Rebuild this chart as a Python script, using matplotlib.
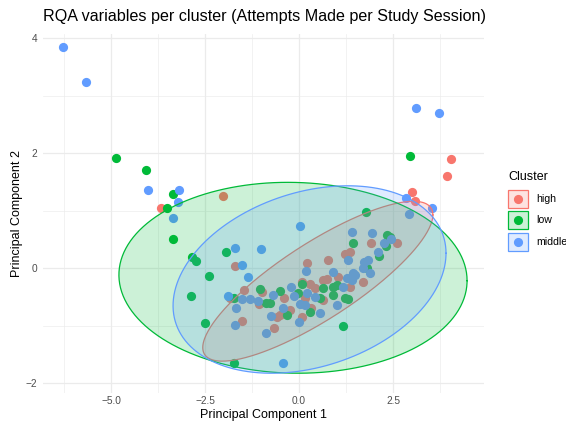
import numpy as np
import matplotlib.pyplot as plt
from matplotlib.patches import Rectangle
from matplotlib.lines import Line2D

plt.rcParams['font.family'] = ['Liberation Sans', 'DejaVu Sans']

clusters = ['high', 'low', 'middle']
colors = ['#F8766D', '#00BA38', '#619CFF']

# points (PC1, PC2)
high_pc1 = [-3.67, -2.02, 4.04, 3.94, 3.01, 3.09, -1.70, -1.46, -0.98, -1.84, -1.06, -0.40,
            -1.52, -0.66, -0.51, -0.59, -0.24, 0.08, 0.32, 0.16, 0.64, 0.64, 0.74, 1.04,
            1.36, 1.70, 1.22, 1.36, 0.77, 0.21, 0.08, 0.29, 1.91, 2.61, 0.43]
high_pc2 = [1.04, 1.25, 1.90, 1.60, 1.32, 1.17, 0.03, -0.38, -0.42, -0.52, -0.63, -0.52,
            -0.92, -1.04, -0.82, -0.85, -0.73, -0.85, -0.70, -0.52, -0.56, -0.21, -0.19, -0.16,
            -0.33, -0.24, 0.24, 0.28, 0.14, 0.09, -0.24, -0.28, 0.43, 0.43, -0.35]

low_pc1 = [-4.87, -4.07, -3.35, -3.51, 2.95, -3.35, -2.85, -2.74, -1.94, -2.39, -2.87, -1.73,
           -1.04, -0.88, -0.77, -0.51, -2.50, -1.73, 1.17, 1.78, 1.44, 2.34, 2.42, 2.31,
           2.13, 1.81, 0.90, 1.01, 0.64, 0.08, -0.03, 0.56, 0.90, 1.22, 1.30, 0.29, -0.32]
low_pc2 = [1.91, 1.70, 1.29, 1.04, 1.95, 0.50, 0.19, 0.12, 0.28, -0.14, -0.49, -0.52,
           -0.37, -0.61, -0.61, -0.40, -0.96, -1.65, -1.01, 0.97, 0.43, 0.57, 0.54, 0.38,
           0.21, 0.00, -0.33, -0.30, -0.35, -0.28, -0.43, -0.52, -0.47, -0.52, -0.54, -0.77, -0.82]

middle_pc1 = [-6.28, -5.66, -4.02, -3.19, -3.22, -3.35, 3.11, 3.72, 2.85, 3.54, 2.93, -1.70,
              -1.01, -1.52, -1.36, -1.89, -1.52, -1.30, -1.09, -0.69, -1.68, -1.70, -0.88, -0.43,
              -0.74, -0.43, 0.00, -0.13, 0.21, 0.03, 0.16, 0.56, 0.43, 1.01, 1.17, -0.21,
              0.19, 0.03, 1.41, 1.94, 2.26, 2.45, 2.10, 1.30, 1.73, 1.84, 1.70, 1.44,
              1.89, 0.90, 1.49, 1.41, 1.28]
middle_pc2 = [3.84, 3.23, 1.36, 1.36, 1.15, 0.87, 2.78, 2.70, 1.22, 1.04, 0.94, 0.35,
              0.33, 0.05, -0.16, -0.49, -0.54, -0.54, -0.57, -0.47, -0.70, -0.99, -1.13, -1.65,
              -0.83, -0.70, -0.94, -0.49, -0.43, -0.63, -0.64, -0.78, -0.50, -0.64, -0.33, -0.33,
              -0.05, 0.73, 0.63, 0.61, 0.43, 0.50, 0.28, 0.14, 0.10, 0.14, 0.00, -0.09,
              -0.09, -0.07, -0.12, -0.21, -0.17]

# ellipse per cluster: centre, half extent in x / y, correlation
ell_cx = [0.50, -0.16, 0.28]
ell_cy = [-0.23, -0.17, -0.20]
ell_sx = [3.06, 4.63, 3.63]
ell_sy = [1.39, 1.66, 1.63]
ell_rho = [0.83, -0.03, 0.28]

xticks = [-5.0, -2.5, 0.0, 2.5]
xminor = [-6.25, -3.75, -1.25, 1.25, 3.75]
yticks = [-2, 0, 2, 4]
yminor = [-1, 1, 3]

W, H = 566, 428
fig = plt.figure(figsize=(W / 100, H / 100), dpi=100)
ax = fig.add_axes([43 / W, 1 - 393 / H, (484 - 43) / W, (393 - 34) / H])

pc1 = [high_pc1, low_pc1, middle_pc1]
pc2 = [high_pc2, low_pc2, middle_pc2]

for i in range(3):
    ax.scatter(pc1[i], pc2[i], s=44, color=colors[i], linewidths=0, zorder=2)

t = np.linspace(0, 2 * np.pi, 300)
for i in range(3):
    ex = ell_cx[i] + ell_sx[i] * np.cos(t)
    ey = ell_cy[i] + ell_sy[i] * (ell_rho[i] * np.cos(t) + np.sqrt(1 - ell_rho[i] ** 2) * np.sin(t))
    ax.fill(ex, ey, facecolor=colors[i], alpha=0.2, zorder=3 + i)
    ax.plot(ex, ey, color=colors[i], lw=0.9, zorder=3 + i)

ax.set_xlim(-6.809, 4.920)
ax.set_ylim(-2.174, 4.070)
ax.set_xticks(xticks)
ax.set_xticklabels(['\u22125.0', '\u22122.5', '0.0', '2.5'])
ax.set_yticks(yticks)
ax.set_yticklabels(['\u22122', '0', '2', '4'])
ax.set_xticks(xminor, minor=True)
ax.set_yticks(yminor, minor=True)
ax.tick_params(which='both', length=0, labelsize=7.3, labelcolor='#4D4D4D')
ax.tick_params(axis='x', pad=2)
ax.tick_params(axis='y', pad=4)
ax.grid(which='major', color='#EBEBEB', lw=0.9)
ax.grid(which='minor', color='#EBEBEB', lw=0.45)
ax.set_axisbelow(True)
for s in ax.spines.values():
    s.set_visible(False)

ax.set_xlabel('Principal Component 1', fontsize=9, labelpad=2)
ax.set_ylabel('Principal Component 2', fontsize=9, labelpad=2)
fig.text(43 / W, 1 - 16 / H, 'RQA variables per cluster (Attempts Made per Study Session)',
         fontsize=11.6, ha='left', va='center')

# legend
fig.text(508 / W, 1 - 177 / H, 'Cluster', fontsize=9, ha='left', va='center')
key_y = [199, 220, 242]
for i in range(3):
    fig.add_artist(Rectangle((508 / W, 1 - (key_y[i] + 9) / H), 20 / W, 18 / H,
                             transform=fig.transFigure, facecolor=colors[i], alpha=0.2, lw=0))
    fig.add_artist(Rectangle((508 / W, 1 - (key_y[i] + 9) / H), 20 / W, 18 / H,
                             transform=fig.transFigure, facecolor='none', edgecolor=colors[i], lw=0.9))
    fig.add_artist(Line2D([518 / W], [1 - key_y[i] / H], transform=fig.transFigure,
                          marker='o', markersize=6.6, color=colors[i], markeredgewidth=0))
    fig.text(536 / W, 1 - key_y[i] / H, clusters[i], fontsize=7.6, ha='left', va='center')

fig.savefig('out.png', dpi=100)
